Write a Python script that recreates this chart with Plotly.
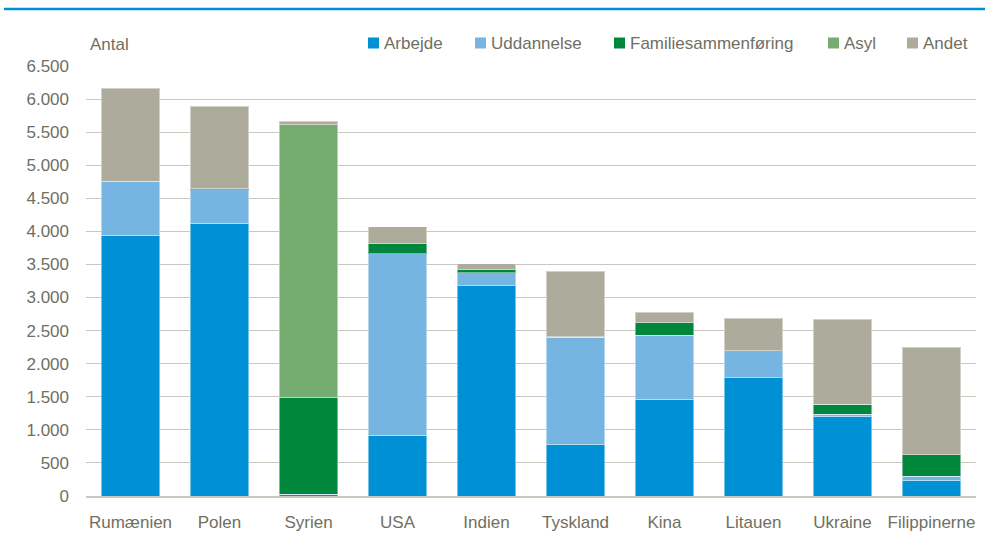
import plotly.graph_objects as go

countries = ["Rumænien", "Polen", "Syrien", "USA", "Indien", "Tyskland", "Kina", "Litauen", "Ukraine", "Filippinerne"]
arbejde = [3940, 4120, 25, 915, 3180, 780, 1460, 1790, 1205, 240]
uddannelse = [810, 510, 5, 2745, 195, 1620, 970, 405, 30, 55]
familie = [10, 15, 1465, 155, 45, 5, 190, 0, 150, 330]
asyl = [0, 0, 4120, 0, 0, 0, 0, 0, 0, 0]
andet = [1400, 1245, 50, 255, 90, 990, 160, 495, 1290, 1620]

series_names = ["Arbejde", "Uddannelse", "Familiesammenføring", "Asyl", "Andet"]
series_values = [arbejde, uddannelse, familie, asyl, andet]
series_colors = ["#0090d5", "#76b4e2", "#00873c", "#77ac70", "#adab9c"]

text_color = "#6f6f62"
font_family = "Liberation Sans, Arial, sans-serif"

# layout geometry (pixels)
W, H = 985, 533
L, R, T, B = 86, 9, 66, 37
PW, PH = W - L - R, H - T - B


def px_x(px):
    return (px - L) / PW


def px_y(py):
    return (H - B - py) / PH


fig = go.Figure()
for name, vals, color in zip(series_names, series_values, series_colors):
    fig.add_trace(go.Bar(
        x=countries, y=vals, name=name, showlegend=False,
        marker=dict(color=color, line=dict(color="rgba(255,255,255,0.45)", width=1)),
    ))

# custom legend: square markers + labels
legend_marker_x = [368, 475, 614, 828, 907]
shapes = [dict(
    type="line", xref="paper", yref="paper",
    x0=px_x(4), x1=px_x(W),
    y0=px_y(9), y1=px_y(9),
    line=dict(color="#0090d5", width=2.5),
)]
annotations = [dict(
    text="Antal", xref="paper", yref="paper",
    x=px_x(88), y=px_y(44),
    xanchor="left", yanchor="middle",
    showarrow=False,
    font=dict(size=17, color=text_color),
)]
for name, color, mx in zip(series_names, series_colors, legend_marker_x):
    shapes.append(dict(
        type="rect", xref="paper", yref="paper",
        x0=px_x(mx), x1=px_x(mx + 11),
        y0=px_y(48.5), y1=px_y(37.5),
        fillcolor=color, line=dict(width=0),
    ))
    annotations.append(dict(
        text=name, xref="paper", yref="paper",
        x=px_x(mx + 14), y=px_y(43),
        xanchor="left", yanchor="middle",
        showarrow=False,
        font=dict(size=17, color=text_color),
    ))

fig.update_layout(
    barmode="stack",
    bargap=0.34,
    width=W, height=H,
    margin=dict(l=L, r=R, t=T, b=B),
    paper_bgcolor="white",
    plot_bgcolor="white",
    separators=",.",
    font=dict(family=font_family, size=17, color=text_color),
    showlegend=False,
    xaxis=dict(
        automargin=False,
        showgrid=False,
        showline=True, linecolor="#c8c8bf", linewidth=2,
        tickfont=dict(size=17, color=text_color),
        ticks="",
        ticklabelstandoff=10,
    ),
    yaxis=dict(
        automargin=False,
        range=[0, 6500],
        dtick=500,
        tickformat=",d",
        showgrid=True, gridcolor="#c8c8bf", gridwidth=1,
        zeroline=False,
        ticks="",
        ticklabelstandoff=16,
        tickfont=dict(size=17, color=text_color),
    ),
    shapes=shapes,
    annotations=annotations,
)

fig.write_html(
    "out.html",
    config={"displayModeBar": False},
    post_script="document.body.style.margin='0';document.body.style.overflow='hidden';",
)
